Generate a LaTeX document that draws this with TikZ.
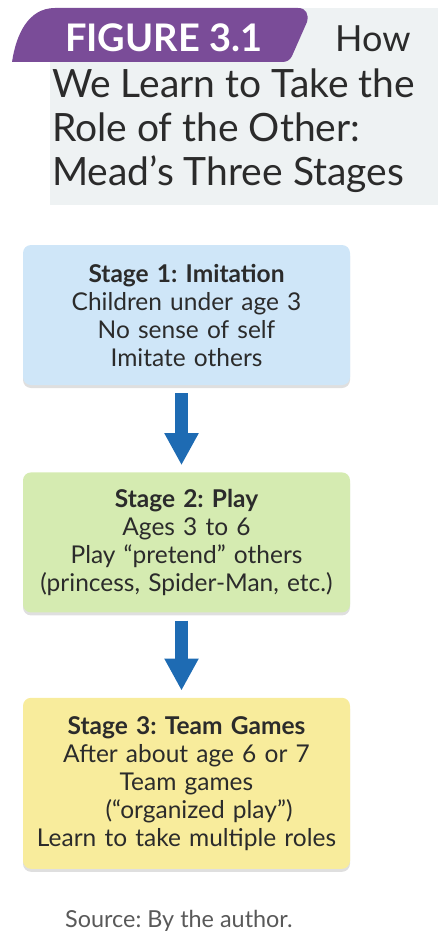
\documentclass[tikz,border=0pt]{standalone}
\usepackage{fontspec}
\setmainfont{Lato}
\usepackage{xcolor}
\usetikzlibrary{arrows.meta,positioning,shadows}

\definecolor{figpurple}{HTML}{7A4C98}
\definecolor{panelgray}{HTML}{EEF2F3}
\definecolor{stageblue}{HTML}{CFE6F8}
\definecolor{stagegreen}{HTML}{D5EBB1}
\definecolor{stageyellow}{HTML}{F8EC9C}
\definecolor{arrowblue}{HTML}{1E6BB3}
\definecolor{textdark}{HTML}{2B2B2B}

\frenchspacing
\begin{document}
\begin{tikzpicture}[
  x=1pt, y=-1pt,
  stage/.style={
    rounded corners=8pt,
    align=center,
    text width=320pt,
    minimum width=327pt,
    inner xsep=3.5pt,
    inner ysep=0pt,
    font=\fontsize{24.5}{28}\selectfont,
    text=textdark,
    drop shadow={opacity=0.25, shadow xshift=0pt, shadow yshift=-3pt}
  },
  titleline/.style={
    anchor=base west,
    inner sep=0pt,
    text=textdark,
    font=\fontsize{39}{44}\selectfont
  },
  flow/.style={
    -{Triangle[width=32pt,length=32pt]},
    line width=13pt,
    arrowblue,
    shorten <=8pt,
    shorten >=7pt
  }
]
  \useasboundingbox (0,0) rectangle (438,934);

  % Title panel
  \fill[panelgray] (50,8) rectangle (438,205);
  \fill[figpurple] (12,62) .. controls (16,35) and (28,8) .. (55,8)
    -- (298,8) .. controls (306,8) and (309,14) .. (307,22)
    -- (292,56) .. controls (290,60) and (287,62) .. (282,62) -- cycle;
  \node[titleline, text=white, font=\fontsize{38}{44}\selectfont] (figno) at (65,52) {\bfseries FIGURE 3.1};
  \node[titleline, font=\fontsize{36}{44}\selectfont] (how) at (335,52) {How};
  \node[titleline] (line1) at (52,97) {We Learn to Take the};
  \node[titleline] (line2) at (52,141) {Role of the Other:};
  \node[titleline] (line3) at (52,185) {Mead’s Three Stages};

  % Stages
  \node[stage, fill=stageblue, minimum height=140pt] (imitation) at (186.5,315)
    {{\bfseries Stage 1: Imitation}\\Children under age 3\\No sense of self\\Imitate others};
  \node[stage, fill=stagegreen, minimum height=140pt, below=87pt of imitation] (play)
    {{\bfseries Stage 2: Play}\\Ages 3 to 6\\Play “pretend” others\\(princess, Spider-Man, etc.)};
  \node[stage, fill=stageyellow, minimum height=171pt, below=85pt of play] (team)
    {{\bfseries Stage 3: Team Games}\\After about age 6 or 7\\Team games\\\hspace*{25pt}(“organized play”)\\Learn to take multiple roles};

  \draw[flow] ([xshift=-5pt]imitation.south) -- ([xshift=-5pt]play.north);
  \draw[flow] ([xshift=-5pt]play.south) -- ([xshift=-5pt]team.north);

  % Source
  \node[anchor=base west, inner sep=0pt, text=black!65, font=\fontsize{23.4}{28}\selectfont]
    (source) at (65,927) {Source: By the author.};
\end{tikzpicture}
\end{document}
